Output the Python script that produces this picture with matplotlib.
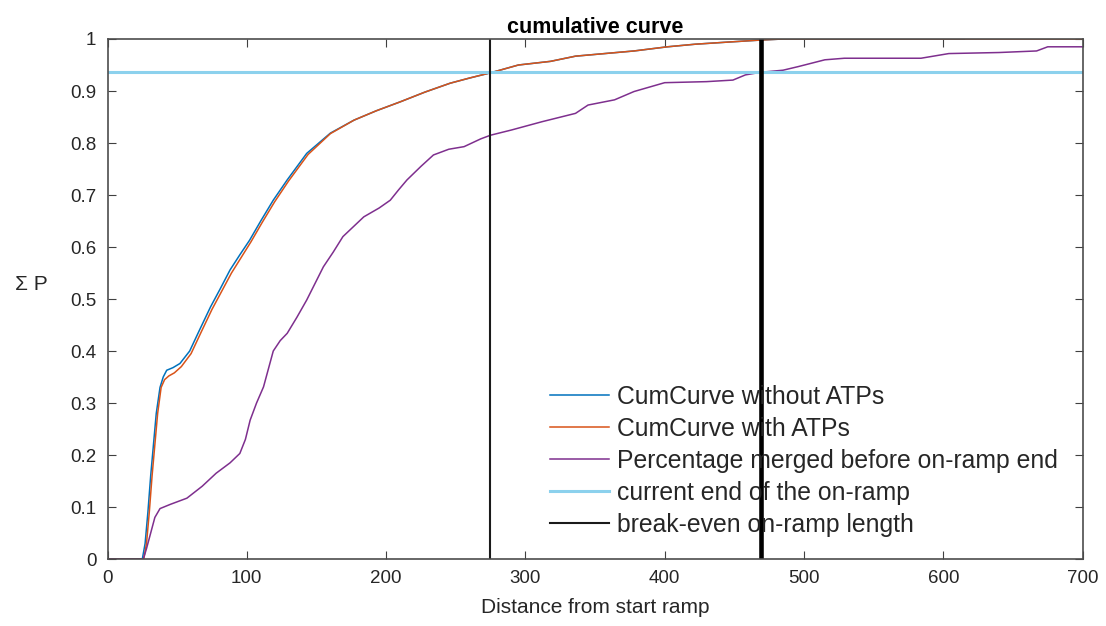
import matplotlib
matplotlib.use("Agg")
import matplotlib.pyplot as plt

plt.rcParams['font.family'] = ['Liberation Sans', 'DejaVu Sans']

# --- data ---
d_without = [0, 25, 27, 29, 31, 33, 35, 37.7, 40, 42.5, 47, 52, 59, 66, 74, 81, 88, 95, 102, 110,
             119, 129, 143, 160, 177, 193, 210, 228, 246, 260, 275, 295, 318, 336, 357, 378, 402,
             422, 445, 469, 485, 530, 615]
p_without = [0, 0, 0.03, 0.09, 0.16, 0.22, 0.28, 0.33, 0.35, 0.363, 0.368, 0.376, 0.40, 0.44,
             0.485, 0.52, 0.556, 0.585, 0.613, 0.65, 0.69, 0.729, 0.78, 0.819, 0.844, 0.862, 0.879,
             0.898, 0.915, 0.925, 0.935, 0.95, 0.957, 0.967, 0.972, 0.977, 0.985, 0.99, 0.994,
             0.998, 1.0, 1.0, 1.0]

d_with = [0, 26, 28, 30, 32, 34, 36, 38.5, 41, 44, 48, 53, 60, 67, 75, 82, 89, 96, 103, 111,
          120, 130, 144, 160, 177, 193, 210, 228, 246, 260, 275, 295, 318, 336, 357, 378, 402,
          422, 445, 469, 485, 530, 615, 700]
p_with = [0, 0, 0.03, 0.09, 0.16, 0.22, 0.28, 0.33, 0.345, 0.352, 0.358, 0.37, 0.395, 0.435,
          0.48, 0.515, 0.55, 0.58, 0.61, 0.647, 0.687, 0.727, 0.778, 0.818, 0.844, 0.862, 0.879,
          0.898, 0.915, 0.925, 0.935, 0.95, 0.957, 0.967, 0.972, 0.977, 0.985, 0.99, 0.994,
          0.998, 1.0, 1.0, 1.0, 1.0]

d_merged = [0, 25.7, 28, 31, 34, 37.7, 45, 57, 68, 78, 88, 95, 99, 102.4, 107, 112, 119, 124,
            129, 136, 143, 155, 162, 169, 184, 195, 203, 209, 215, 225, 234, 245, 256, 268, 275,
            290, 312, 336, 345, 364, 378, 400, 430, 449, 458, 469, 485, 496, 515, 529, 584, 604,
            640, 667, 675, 700]
p_merged = [0, 0, 0.02, 0.05, 0.08, 0.097, 0.105, 0.117, 0.14, 0.165, 0.185, 0.203, 0.23, 0.267,
            0.30, 0.331, 0.40, 0.42, 0.434, 0.465, 0.498, 0.562, 0.59, 0.62, 0.658, 0.675, 0.69,
            0.71, 0.729, 0.755, 0.777, 0.788, 0.793, 0.808, 0.815, 0.825, 0.841, 0.857, 0.873,
            0.883, 0.899, 0.916, 0.918, 0.921, 0.931, 0.936, 0.94, 0.947, 0.96, 0.963, 0.963,
            0.972, 0.974, 0.977, 0.985, 0.985]

current_end_level = 0.936
current_end_x = 274.5
break_even_x = 469

labels = ["CumCurve without ATPs", "CumCurve with ATPs",
          "Percentage merged before on-ramp end", "current end of the on-ramp",
          "break-even on-ramp length"]

TXT = (0.15, 0.15, 0.15)

# --- figure ---
fig = plt.figure(figsize=(11.06, 6.26), dpi=100)
ax = fig.add_axes([0.0972, 0.1070, 0.8816, 0.8307])

ax.plot(d_without, p_without, color=(0, 0.447, 0.741), lw=1.1, label=labels[0])
ax.plot(d_with, p_with, color=(0.85, 0.325, 0.098), lw=1.1, label=labels[1])
ax.plot(d_merged, p_merged, color=(0.494, 0.184, 0.556), lw=1.1, label=labels[2])
ax.axhline(current_end_level, color=(0.55, 0.82, 0.93), lw=2.2, label=labels[3])
ax.axvline(current_end_x, color=(0.1, 0.1, 0.1), lw=1.5, label=labels[4])
ax.axvline(break_even_x, color='black', lw=3.3)

ax.set_xlim(0, 700)
ax.set_ylim(0, 1)
ax.set_xticks(range(0, 701, 100))
ax.set_yticks([i / 10 for i in range(11)])
ax.set_yticklabels(['0', '0.1', '0.2', '0.3', '0.4', '0.5', '0.6', '0.7', '0.8', '0.9', '1'])
ax.tick_params(direction='in', top=True, right=True, labelsize=13.5, colors=(0.25, 0.25, 0.25),
               labelcolor=TXT, length=6, pad=8)
for s in ax.spines.values():
    s.set_color((0.3, 0.3, 0.3))
    s.set_linewidth(1.2)

ax.set_xlabel("Distance from start ramp", fontsize=15, color=TXT, labelpad=7.5)
ax.set_ylabel("Σ P", fontsize=15, rotation=0, color=TXT, ha='center', va='center')
ax.yaxis.set_label_coords(-0.0778, 0.527)
ax.set_title("cumulative curve", fontsize=15.5, fontweight='bold', pad=4)

leg = ax.legend(loc='lower left', bbox_to_anchor=(0.4535, 0.043), frameon=False, fontsize=17.8,
                handlelength=2.38, labelspacing=0.32, handletextpad=0.34, borderaxespad=0,
                borderpad=0)
for t in leg.get_texts():
    t.set_color(TXT)

fig.savefig("out.png", dpi=100)
